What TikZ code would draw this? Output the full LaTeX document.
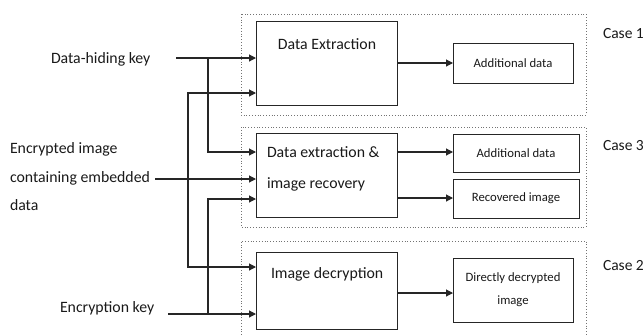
\documentclass[tikz,border=0pt]{standalone}
\usepackage{fontspec}
\setmainfont{Carlito}
\usetikzlibrary{arrows.meta}
\begin{document}
\begin{tikzpicture}[x=1pt,y=-1pt,
  every node/.style={inner sep=0pt, outer sep=0pt},
  box/.style={draw=black!85, line width=1pt, fill=white, anchor=north west},
  casebox/.style={draw=black!55, line width=0.8pt, dotted},
  bigtxt/.style={font=\fontsize{15.8}{18}\selectfont, text=black!90},
  casetxt/.style={font=\fontsize{15.5}{18}\selectfont, text=black!90},
  smalltxt/.style={font=\fontsize{12.7}{23}\selectfont, text=black!90, align=center},
  lbltxt/.style={font=\fontsize{15.8}{28.5}\selectfont, text=black!90, align=left},
  wire/.style={draw=black!85, line width=1.1pt},
  arr/.style={wire, -{Triangle[length=7pt,width=7pt]}}]
\useasboundingbox (0,0) rectangle (644,335);
% case frames
\draw[casebox] (241,14) rectangle (586,115);
\draw[casebox] (241,127) rectangle (586,227);
\draw[casebox] (241,335) -- (241,241) -- (586,241) -- (586,335);
% main boxes
\node[box, minimum width=141pt, minimum height=84pt] (de) at (256,21) {};
\node[box, minimum width=141pt, minimum height=84pt] (dr) at (256,133) {};
\node[box, minimum width=141pt, minimum height=77pt] (id) at (256,252) {};
\node[bigtxt, anchor=center] (detxt) at (327,44) {Data Extraction};
\node[bigtxt, anchor=west, align=left, font=\fontsize{15.8}{31}\selectfont] (drtxt) at (267,169) {Data extraction \&\\image recovery};
\node[bigtxt, anchor=west] (idtxt) at (271,274) {Image decryption};
% output boxes
\node[box, minimum width=120pt, minimum height=40pt] (ad1) at (453,43) {};
\node[smalltxt] at (ad1.center) (ad1t) {Additional data};
\node[box, minimum width=126pt, minimum height=38pt] (ad2) at (453,134) {};
\node[smalltxt] at (ad2.center) (ad2t) {Additional data};
\node[box, minimum width=126pt, minimum height=39pt] (rec) at (453,179) {};
\node[smalltxt] at (rec.center) (rect) {Recovered image};
\node[box, minimum width=120pt, minimum height=64pt] (dd) at (453,258) {};
\node[smalltxt] at (dd.center) (ddt) {Directly decrypted\\image};
% case labels
\node[casetxt, anchor=west] (c1) at (603,34) {Case 1};
\node[casetxt, anchor=west] (c3) at (603,146) {Case 3};
\node[casetxt, anchor=west] (c2) at (603,266) {Case 2};
% input labels
\node[bigtxt, anchor=west] (hk) at (51,59) {Data-hiding key};
\node[lbltxt, anchor=west] (enc) at (10,177) {Encrypted image\\containing embedded\\data};
\node[bigtxt, anchor=west] (ek) at (60,308) {Encryption key};
% wire coordinates
\coordinate (hks) at (176,58);
\coordinate (hkj) at (208,58);
\coordinate (encs) at (155,179);
\coordinate (encj) at (188,179);
\coordinate (eks) at (168,314);
\coordinate (ekj) at (208,314);
\coordinate (de1) at (256,58);
\coordinate (de2) at (256,93);
\coordinate (dr1) at (256,152);
\coordinate (dr2) at (256,179);
\coordinate (dr3) at (256,199);
\coordinate (id1) at (256,267);
\coordinate (id2) at (256,314);
\coordinate (o1) at (397,63);
\coordinate (o2) at (397,152);
\coordinate (o3) at (397,198);
\coordinate (o4) at (397,293);
% input wires
\draw[arr] (hks) -- (de1);
\draw[arr] (hkj) |- (dr1);
\draw[arr] (encs) -- (dr2);
\draw[arr] (encj) |- (de2);
\draw[arr] (encj) |- (id1);
\draw[arr] (eks) -- (id2);
\draw[arr] (ekj) |- (dr3);
% output wires
\draw[arr] (o1) -- (ad1.west |- o1);
\draw[arr] (o2) -- (ad2.west |- o2);
\draw[arr] (o3) -- (rec.west |- o3);
\draw[arr] (o4) -- (dd.west |- o4);
\end{tikzpicture}
\end{document}
